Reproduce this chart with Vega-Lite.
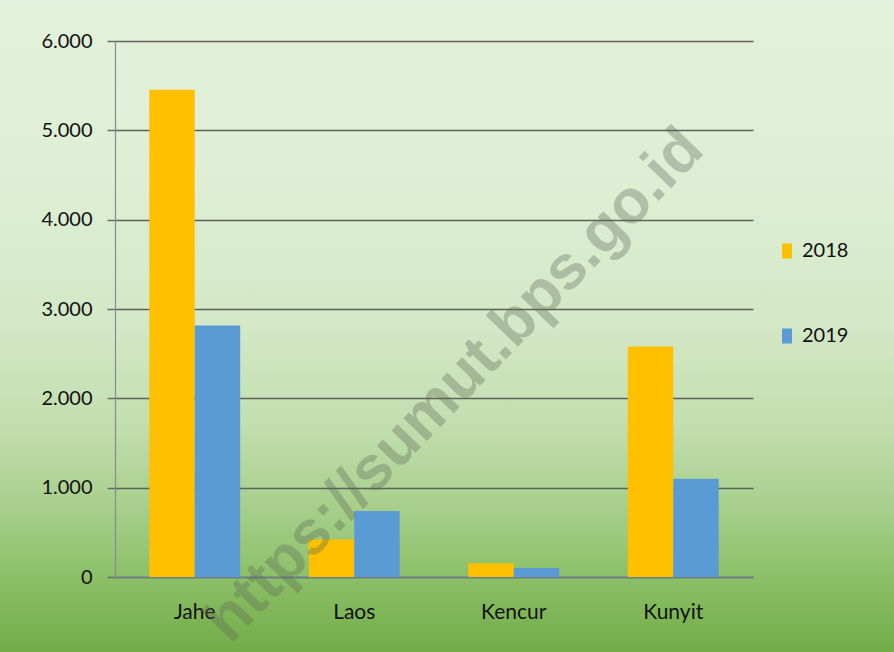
{
  "$schema": "https://vega.github.io/schema/vega-lite/v6.json",
  "width": 894,
  "height": 652,
  "padding": 0,
  "autosize": {"type": "none"},
  "background": "#dcebd2",
  "config": {
    "view": {
      "stroke": null,
      "fill": {
        "gradient": "linear",
        "x1": 0, "y1": 0, "x2": 0, "y2": 1,
        "stops": [
          {"offset": 0, "color": "#e4f1dc"},
          {"offset": 0.3, "color": "#ddeed3"},
          {"offset": 0.5, "color": "#d3e8c6"},
          {"offset": 0.65, "color": "#c3deaf"},
          {"offset": 0.77, "color": "#a9d08e"},
          {"offset": 0.86, "color": "#92c470"},
          {"offset": 1, "color": "#72ac47"}
        ]
      }
    },
    "font": "Lato"
  },
  "layer": [
    {
      "data": {
        "values": [
          {"komoditas": "Jahe", "tahun": "2018", "nilai": 5455},
          {"komoditas": "Jahe", "tahun": "2019", "nilai": 2815},
          {"komoditas": "Laos", "tahun": "2018", "nilai": 420},
          {"komoditas": "Laos", "tahun": "2019", "nilai": 740},
          {"komoditas": "Kencur", "tahun": "2018", "nilai": 155},
          {"komoditas": "Kencur", "tahun": "2019", "nilai": 100},
          {"komoditas": "Kunyit", "tahun": "2018", "nilai": 2580},
          {"komoditas": "Kunyit", "tahun": "2019", "nilai": 1100}
        ]
      },
      "mark": {"type": "bar"},
      "encoding": {
        "x": {
          "field": "komoditas",
          "type": "nominal",
          "sort": ["Jahe", "Laos", "Kencur", "Kunyit"],
          "scale": {"range": [115, 753], "paddingInner": 0.43, "paddingOuter": 0.215},
          "axis": {
            "title": null,
            "orient": "bottom",
            "offset": -75,
            "labelAngle": 0,
            "labelFont": "Lato",
            "labelFontSize": 21,
            "labelColor": "#111111",
            "labelPadding": 24,
            "ticks": false,
            "domainColor": "#6e7c90",
            "domainWidth": 1.5,
            "grid": false
          }
        },
        "xOffset": {"field": "tahun", "type": "nominal", "sort": ["2018", "2019"]},
        "y": {
          "field": "nilai",
          "type": "quantitative",
          "scale": {"domain": [0, 6000], "range": [577, 41], "nice": false},
          "axis": {
            "title": null,
            "orient": "left",
            "offset": -115,
            "values": [0, 1000, 2000, 3000, 4000, 5000, 6000],
            "labelExpr": "replace(format(datum.value, ','), ',', '.')",
            "labelFont": "Lato",
            "labelFontSize": 20,
            "labelColor": "#111111",
            "labelPadding": 15,
            "tickSize": 8,
            "tickColor": "#6b6b6b",
            "tickWidth": 1.5,
            "domainColor": "#858a95",
            "domainWidth": 1.2,
            "grid": true,
            "gridColor": "#5c625c",
            "gridWidth": 1.7
          }
        },
        "color": {
          "field": "tahun",
          "type": "nominal",
          "scale": {"domain": ["2018", "2019"], "range": ["#FFC000", "#5B9BD5"]},
          "legend": {
            "title": null,
            "orient": "none",
            "legendX": 777,
            "legendY": 241,
            "labelFont": "Lato",
            "labelFontSize": 20,
            "labelColor": "#111111",
            "symbolType": "M-0.67,-1H0.67V1H-0.67Z",
            "symbolSize": 225,
            "symbolStrokeWidth": 0,
            "rowPadding": 65,
            "labelOffset": 5
          }
        }
      }
    },
    {
      "data": {"values": [{"teks": "https://sumut.bps.go.id"}]},
      "mark": {
        "type": "text",
        "font": "Liberation Sans",
        "fontWeight": "bold",
        "fontSize": 62,
        "angle": -46,
        "align": "center",
        "baseline": "middle",
        "fill": "#5f6a58",
        "opacity": 0.35
      },
      "encoding": {
        "text": {"field": "teks"},
        "x": {"datum": "Kencur", "bandPosition": -0.15},
        "y": {"datum": 2150}
      }
    }
  ]
}
